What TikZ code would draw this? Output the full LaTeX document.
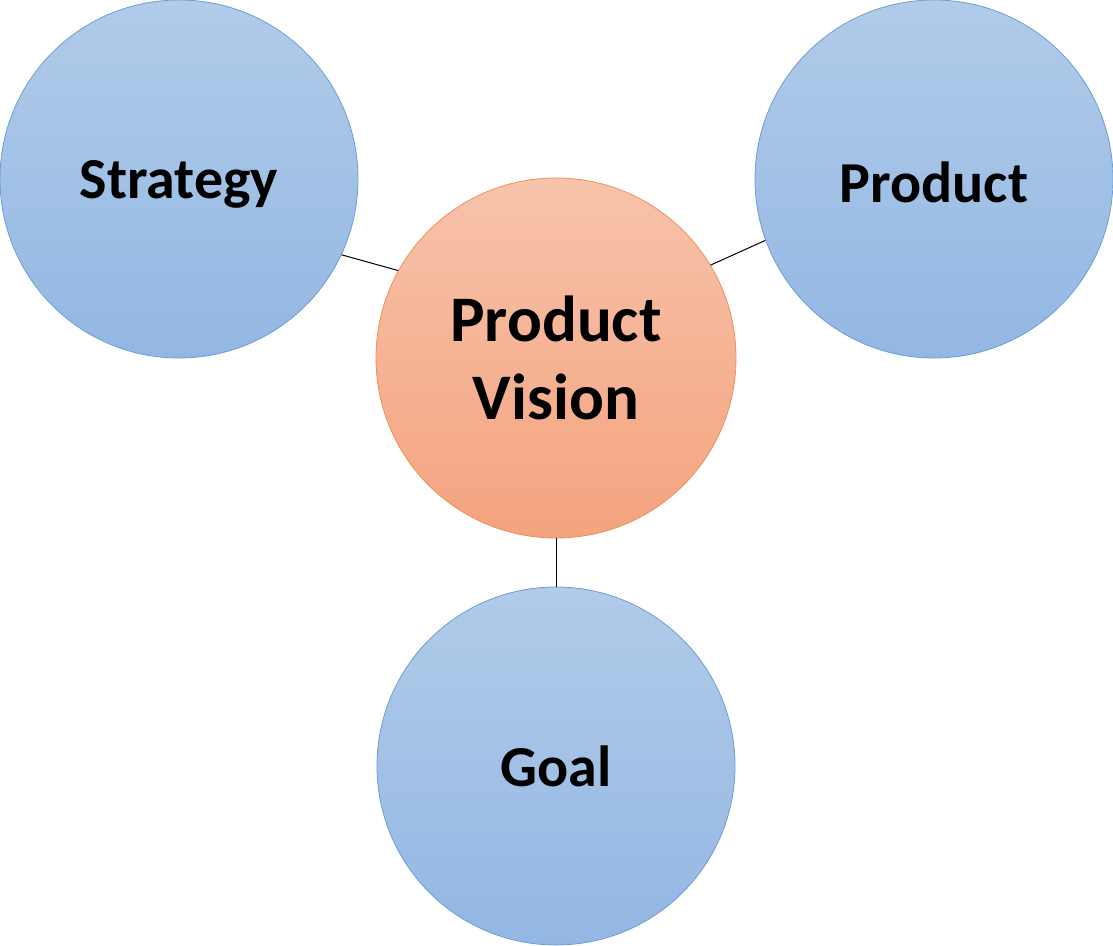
\documentclass[tikz,border=0pt]{standalone}
\usepackage{fontspec}
\setmainfont{Carlito}
\definecolor{bluetop}{HTML}{B1CBE9}
\definecolor{bluebot}{HTML}{93B7E3}
\definecolor{blueline}{HTML}{6A9ED6}
\definecolor{orangetop}{HTML}{F7C3AB}
\definecolor{orangebot}{HTML}{F4A37E}
\definecolor{orangeline}{HTML}{EE8F5E}
\begin{document}
\begin{tikzpicture}[x=1pt,y=-1pt,
  bubble/.style={circle, minimum size=358pt, inner sep=0pt, line width=0.8pt,
    draw=blueline, top color=bluetop, bottom color=bluebot,
    font=\fontsize{58}{72}\selectfont\bfseries, align=center},
  centre/.style={bubble, draw=orangeline, top color=orangetop, bottom color=orangebot,
    minimum size=360pt, font=\fontsize{65}{78}\selectfont\bfseries},
  link/.style={draw=black, line width=1pt}]
\useasboundingbox (0,0) rectangle (1113,945);
\node[bubble] (S) at (179,179) {};
\node[bubble] (P) at (934,179) {};
\node[centre] (V) at (556,358) {Product\\Vision};
\node[bubble] (G) at (556,766) {Goal};
\node[font=\fontsize{58}{72}\selectfont\bfseries] (St) at (179,184) {Strategy};
\node[font=\fontsize{58}{72}\selectfont\bfseries] (Pt) at (934,182) {Product};
\draw[link] (S.-25) -- (V.151);
\draw[link] (P.200) -- (V.31);
\draw[link] (V.south) -- (G.north);
\end{tikzpicture}
\end{document}
